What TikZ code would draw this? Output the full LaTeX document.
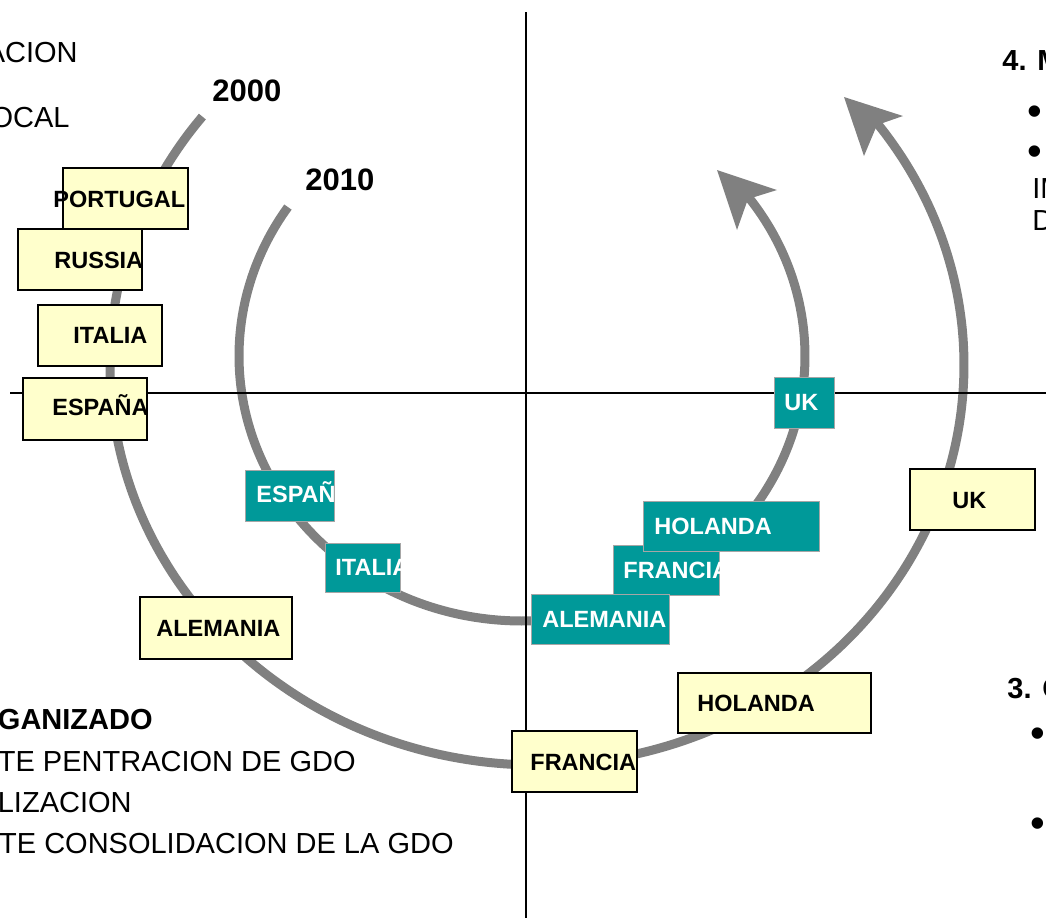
\documentclass[tikz,border=0pt]{standalone}
\usepackage{fontspec}
\setmainfont{Liberation Sans}
\usetikzlibrary{fit}
\definecolor{ylw}{HTML}{FFFFCC}
\definecolor{tealbox}{HTML}{009999}
\definecolor{arcgray}{HTML}{808080}
\begin{document}
\begin{tikzpicture}[x=0.5pt,y=-0.5pt,
  ybox/.style={draw=black, line width=1pt, fill=ylw, inner sep=0pt},
  tbox/.style={draw=gray!70, line width=0.5pt, fill=tealbox, inner sep=0pt},
  ylbl/.style={font=\bfseries\fontsize{11.75}{14}\selectfont, inner sep=0pt, anchor=base west},
  tlbl/.style={ylbl, text=white},
  bigtxt/.style={font=\fontsize{14.5}{17}\selectfont, inner sep=0pt},
  bigbold/.style={font=\bfseries\fontsize{14.5}{17}\selectfont, inner sep=0pt},
  bullettxt/.style={font=\fontsize{21}{24}\selectfont, inner sep=0pt, anchor=base west},
  yeartxt/.style={font=\bfseries\fontsize{15.5}{18}\selectfont, inner sep=0pt, anchor=base west},
  arcline/.style={draw=arcgray, line width=4.5pt},
  axisline/.style={draw=black, line width=1pt}]
\path[use as bounding box] (0,0) rectangle (1046,918);
\clip (0,0) rectangle (1046,918);

% arcs
\draw[arcline] plot[domain=141.6:397.7, samples=150, smooth] ({537+427*cos(\x)},{365-400*sin(\x)});
\fill[arcgray] (844,97) -- (903,116) -- (877,125) -- (864,156) -- cycle;
\draw[arcline] plot[domain=145.8:397.3, samples=150, smooth] ({522+283*cos(\x)},{356-265*sin(\x)});
\fill[arcgray] (717,170) -- (777,190) -- (748,199) -- (737,230) -- cycle;

% axes
\coordinate (vtop) at (526,12);
\coordinate (vbot) at (526,918);
\coordinate (hleft) at (10,393);
\coordinate (hright) at (1046,393);
\draw[axisline] (vtop) -- (vbot);
\draw[axisline] (hleft) -- (hright);

% yellow boxes (2000)
\node[ybox, fit={(63,168)(188,229)}] (yport) {};
\node[ylbl] (yport-t) at (53,207) {PORTUGAL};
\node[ybox, fit={(18,229)(142,290)}] (yrus) {};
\node[ylbl] (yrus-t) at (54,268) {RUSSIA};
\node[ybox, fit={(38,305)(162,366)}] (yita) {};
\node[ylbl] (yita-t) at (73,343) {ITALIA};
\node[ybox, fit={(23,378)(147,440)}] (yesp) {};
\node[ylbl] (yesp-t) at (52,415) {ESPAÑA};
\node[ybox, fit={(140,597)(292,659)}] (yale) {};
\node[ylbl] (yale-t) at (156,636) {ALEMANIA};
\node[ybox, fit={(512,731)(637,792)}] (yfra) {};
\node[ylbl] (yfra-t) at (530,770) {FRANCIA};
\node[ybox, fit={(678,673)(871,733)}] (yhol) {};
\node[ylbl] (yhol-t) at (697,711) {HOLANDA};
\node[ybox, fit={(910,469)(1035,530)}] (yuk) {};
\node[ylbl] (yuk-t) at (952,508) {UK};

% teal boxes (2010)
\node[tbox, fit={(245,470)(334,521)}] (tesp) {};
\begin{scope}\clip (245,470) rectangle (334,521);
\node[tlbl] (tesp-t) at (256,502) {ESPAÑA};
\end{scope}
\node[tbox, fit={(325,543)(400,592)}] (tita) {};
\begin{scope}\clip (325,543) rectangle (400,592);
\node[tlbl] (tita-t) at (335,575) {ITALIA};
\end{scope}
\node[tbox, fit={(613,545)(719,595)}] (tfra) {};
\begin{scope}\clip (613,545) rectangle (719,595);
\node[tlbl] (tfra-t) at (623,578) {FRANCIA};
\end{scope}
\node[tbox, fit={(643,501)(819,551)}] (thol) {};
\node[tlbl] (thol-t) at (654,534) {HOLANDA};
\node[tbox, fit={(531,594)(669,644)}] (tale) {};
\node[tlbl] (tale-t) at (542,627) {ALEMANIA};
\node[tbox, fit={(774,377)(834,428)}] (tuk) {};
\node[tlbl] (tuk-t) at (784,410) {UK};

% years
\node[yeartxt] (y2000) at (212,101) {2000};
\node[yeartxt] (y2010) at (305,190) {2010};

% left texts
\node[bigtxt, anchor=base east] (tl1) at (78,62) {ACION};
\node[bigtxt, anchor=base east] (tl2) at (70,127) {OCAL};
\node[bigbold, anchor=base east] (tl3) at (153,729) {GANIZADO};
\node[bigtxt, anchor=base east] (tl4) at (356,771) {TE PENTRACION DE GDO};
\node[bigtxt, anchor=base east] (tl5) at (132,812) {LIZACION};
\node[bigtxt, anchor=base east] (tl6) at (454,853) {TE CONSOLIDACION DE LA GDO};

% right texts
\node[bigbold, anchor=base west] (tr1) at (1002,70) {4. M};
\node[bullettxt] (tr2) at (1027,125) {•};
\node[bullettxt] (tr3) at (1027,165) {•};
\node[bigtxt, anchor=base west] (tr4) at (1032,198) {IM};
\node[bigtxt, anchor=base west] (tr5) at (1032,230) {D};
\node[bigbold, anchor=base west] (tr6) at (1007,698) {3. C};
\node[bullettxt] (tr7) at (1030,747) {•};
\node[bullettxt] (tr8) at (1030,837) {•};
\end{tikzpicture}
\end{document}
